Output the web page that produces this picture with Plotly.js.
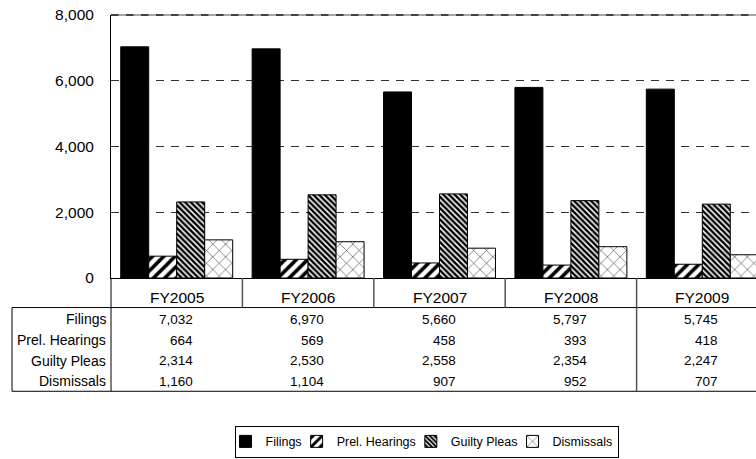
<!DOCTYPE html>
<html><head><meta charset="utf-8">
<script src="https://cdn.plot.ly/plotly-3.0.1.min.js"></script>
<style>html,body{margin:0;padding:0;overflow:hidden;background:#fff;width:756px;height:459px}
#wrap{width:756px;height:459px;overflow:hidden;position:relative}
#chart{width:770px;height:459px;position:absolute;left:0;top:0}</style>
</head><body><div id="wrap"><div id="chart"></div></div>
<script>
// ---- data ----
const years = ['FY2005', 'FY2006', 'FY2007', 'FY2008', 'FY2009'];
const seriesNames = ['Filings', 'Prel. Hearings', 'Guilty Pleas', 'Dismissals'];
const filings = [7032, 6970, 5660, 5797, 5745];
const prelHearings = [664, 569, 458, 393, 418];
const guiltyPleas = [2314, 2530, 2558, 2354, 2247];
const dismissals = [1160, 1104, 907, 952, 707];
const yTicks = [0, 2000, 4000, 6000, 8000];

// ---- geometry ----
const W = 770, H = 459, L = 111, R = 2, T = 15, B = 177;
const plotW = W - L - R, plotH = H - T - B;
const py = p => (H - B - p) / plotH;      // pixel y -> paper y
const px = p => (p - L) / plotW;          // pixel x -> paper x
const FONT = 'Liberation Sans, Arial, sans-serif';

const allSeries = [filings, prelHearings, guiltyPleas, dismissals];
const styles = [
  {color: '#000000'},
  {color: '#ffffff', pattern: {shape: '/', size: 8, solidity: 0.45, fgcolor: '#000', bgcolor: '#fff'}},
  {color: '#ffffff', pattern: {shape: '\\', size: 4, solidity: 0.62, fgcolor: '#000', bgcolor: '#fff'}},
  {color: '#ffffff', pattern: {shape: 'x', size: 9, solidity: 0.12, fgcolor: '#333', bgcolor: '#fff'}}
];

const traces = allSeries.map((vals, i) => ({
  type: 'bar', name: seriesNames[i], x: years, y: vals,
  marker: Object.assign({line: {color: '#000', width: 1}}, styles[i]),
  hoverinfo: 'skip'
}));

// ---- table (annotations + shapes) ----
const headerY = 302;
const rowY = [324, 345, 366, 387];
const headerBottom = 312, tableBottom = 397, tableLeft = 12;
const annotations = [];
years.forEach(y => annotations.push({
  xref: 'x', yref: 'paper', x: y, y: py(headerY), text: y, showarrow: false,
  xanchor: 'center', yanchor: 'middle', font: {family: FONT, size: 15.5, color: '#000'}
}));
seriesNames.forEach((n, r) => {
  annotations.push({
    xref: 'paper', yref: 'paper', x: 0, xshift: -3, y: py(rowY[r]), text: n, showarrow: false,
    xanchor: 'right', yanchor: 'middle', font: {family: FONT, size: 14, color: '#000'}
  });
  allSeries[r].forEach((v, c) => annotations.push({
    xref: 'x', yref: 'paper', x: years[c], xshift: 18, y: py(rowY[r]),
    text: v.toLocaleString('en-US'), showarrow: false,
    xanchor: 'right', yanchor: 'middle', font: {family: FONT, size: 13.5, color: '#000'}
  }));
});

const ln = {color: '#000', width: 1};
const shapes = [
  // gray top frame line with dark dashes on it
  {type: 'line', xref: 'paper', yref: 'paper', x0: 0, x1: 1, y0: 1, y1: 1, layer: 'above', line: {color: '#888', width: 1.5}},
  {type: 'line', xref: 'paper', yref: 'paper', x0: 0, x1: 1, y0: 1, y1: 1, layer: 'above', line: {color: '#222', width: 1.5, dash: '7.5px,7.5px'}},
  // table horizontals
  {type: 'line', xref: 'paper', yref: 'paper', x0: px(tableLeft), x1: 1, y0: py(headerBottom), y1: py(headerBottom), line: ln},
  {type: 'line', xref: 'paper', yref: 'paper', x0: px(tableLeft), x1: 1, y0: py(tableBottom), y1: py(tableBottom), line: ln},
  // table left border and label column border
  {type: 'line', xref: 'paper', yref: 'paper', x0: px(tableLeft), x1: px(tableLeft), y0: py(headerBottom), y1: py(tableBottom), line: ln},
  {type: 'line', xref: 'paper', yref: 'paper', x0: 0, x1: 0, y0: 0, y1: py(tableBottom), line: ln}
];
years.slice(0, -1).forEach((y, i) => {
  const full = i === years.length - 2;
  shapes.push({type: 'line', xref: 'x', yref: 'paper', x0: i + 0.5, x1: i + 0.5,
    y0: 0, y1: py(full ? tableBottom : headerBottom), line: {color: '#555', width: 1.5}});
});

const layout = {
  width: W, height: H,
  margin: {l: L, r: R, t: T, b: B, pad: 0},
  paper_bgcolor: '#fff', plot_bgcolor: '#fff',
  barmode: 'group', bargap: 0.148, bargroupgap: 0,
  font: {family: FONT, color: '#000'},
  xaxis: {type: 'category', showticklabels: false, ticks: '', showgrid: false,
          showline: true, linecolor: '#000', linewidth: 1, zeroline: false, fixedrange: true},
  yaxis: {range: [0, 8000], tickvals: yTicks, tickformat: ',d', ticks: '',
          ticklabelstandoff: 13, tickfont: {family: FONT, size: 15.5, color: '#000'},
          showgrid: true, gridcolor: '#333', gridwidth: 1, griddash: '7.5px,7.5px',
          zeroline: true, zerolinecolor: '#000', zerolinewidth: 1,
          showline: true, linecolor: '#000', linewidth: 1, fixedrange: true},
  showlegend: true,
  legend: {orientation: 'h', x: px(426.5), xanchor: 'center', y: py(432), yanchor: 'top',
           bordercolor: '#000', borderwidth: 1, bgcolor: '#fff',
           font: {family: FONT, size: 12.5, color: '#000'}, itemwidth: 30, indentation: -10,
           traceorder: 'normal'},
  annotations: annotations,
  shapes: shapes
};

Plotly.newPlot('chart', traces, layout, {staticPlot: true, displayModeBar: false});
</script>
</body></html>
